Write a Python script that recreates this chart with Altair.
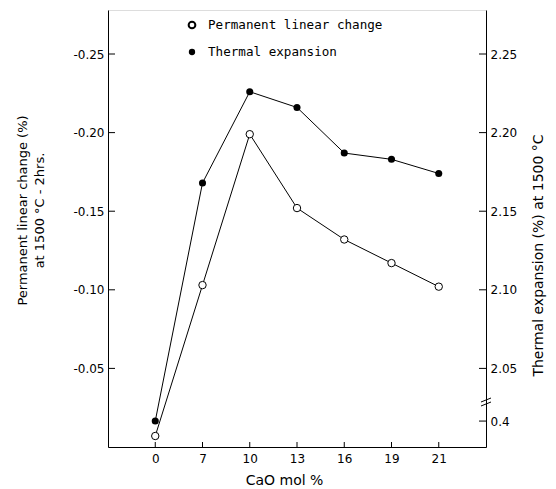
import altair as alt
import pandas as pd

# ---- data ----
cao = ["0", "7", "10", "13", "16", "19", "21"]
# permanent linear change, magnitude (axis is labelled with negative sign)
plc = [0.007, 0.103, 0.199, 0.152, 0.132, 0.117, 0.102]
# thermal expansion (%) at 1500 C ; first value lies below the axis break
te = [0.40, 2.168, 2.226, 2.216, 2.187, 2.183, 2.174]
left_ticks = [0.05, 0.10, 0.15, 0.20, 0.25]
right_ticks = [2.05, 2.10, 2.15, 2.20, 2.25]
legend_labels = ["Permanent linear change", "Thermal expansion"]

BREAK_POS = 2.0165  # position on the right scale where the broken-axis value 0.4 is drawn
W, H = 378, 437
LDOM = [0.0, 0.278]
RDOM = [2.0, 2.278]
FONT = "DejaVu Sans"
MONO = "DejaVu Sans Mono"

df = pd.DataFrame({"cao": cao, "plc": plc, "te": te})

xscale = alt.Scale(type="point", padding=1, domain=cao)
xaxis = alt.Axis(title="CaO mol %", labelAngle=0, ticks=False,
                 domain=True, domainColor="black", labelPadding=6,
                 labelFontSize=12, titleFontSize=14, titleFontWeight="normal",
                 titlePadding=9, titleX=176, titleAlign="center",
                 labelColor="black", titleColor="black",
                 grid=False, labelFont=FONT, titleFont=FONT)
xenc = alt.X("cao:O", scale=xscale, axis=xaxis)

lscale = alt.Scale(domain=LDOM, nice=False, zero=False)
rscale = alt.Scale(domain=RDOM, nice=False, zero=False)

base = alt.Chart(df)

# left series (open circles)
left_axis = alt.Axis(orient="left", values=left_ticks,
                     labelExpr="'-' + format(datum.value, '.2f')",
                     ticks=False, grid=False, domain=True, domainColor="black",
                     labelPadding=4, labelFontSize=12, labelColor="black",
                     title=["Permanent linear change (%)", "at 1500 \u00b0C - 2hrs."],
                     titleY=200, titleLineHeight=17,
                     titleFontSize=13, titleFontWeight="normal", titleColor="black",
                     titlePadding=26, labelFont=FONT, titleFont=FONT)

plc_line = base.mark_line(color="black", strokeWidth=1).encode(
    x=xenc, y=alt.Y("plc:Q", scale=lscale, axis=left_axis))
plc_pts = base.mark_point(shape="circle", filled=True, fill="white", stroke="black",
                          strokeWidth=1, size=55, opacity=1).encode(
    x=xenc, y=alt.Y("plc:Q", scale=lscale, axis=None))

# right series (filled circles)
right_axis = alt.Axis(orient="right", values=right_ticks + [BREAK_POS],
                      labelExpr="datum.value < 2.02 ? '0.4' : format(datum.value, '.2f')",
                      ticks=False, grid=False, domain=True, domainColor="black",
                      labelPadding=4, labelFontSize=12, labelColor="black",
                      title="Thermal expansion (%) at 1500 \u00b0C",
                      titleAngle=270, titleBaseline="middle", titleAlign="center",
                      titleX=52, titleY=245,
                      titleFontSize=14, titleFontWeight="normal", titleColor="black",
                      labelFont=FONT, titleFont=FONT)

te_base = base.transform_calculate(tepos=f"datum.te < 1 ? {BREAK_POS} : datum.te")
te_line = te_base.mark_line(color="black", strokeWidth=1).encode(
    x=xenc, y=alt.Y("tepos:Q", scale=rscale, axis=right_axis))
te_pts = te_base.mark_point(shape="circle", filled=True, color="black", size=50,
                            opacity=1).encode(
    x=xenc, y=alt.Y("tepos:Q", scale=rscale, axis=None))

# inward tick marks
lt = alt.Chart(pd.DataFrame({"v": left_ticks})).mark_rule(color="black").encode(
    x=alt.value(0), x2=alt.value(7),
    y=alt.Y("v:Q", scale=lscale, axis=None))
rt = alt.Chart(pd.DataFrame({"v": right_ticks + [BREAK_POS]})).mark_rule(color="black").encode(
    x=alt.value(W - 7), x2=alt.value(W),
    y=alt.Y("v:Q", scale=rscale, axis=None))
xt = alt.Chart(pd.DataFrame({"cao": cao})).mark_rule(color="black").encode(
    x=xenc, y=alt.value(H), y2=alt.value(H - 5))

# axis break marks on the right axis
brk1 = alt.Chart(pd.DataFrame({"a": [0]})).mark_rule(color="black").encode(
    x=alt.value(W - 5), x2=alt.value(W + 5), y=alt.value(392), y2=alt.value(388))
brk2 = alt.Chart(pd.DataFrame({"a": [0]})).mark_rule(color="black").encode(
    x=alt.value(W - 5), x2=alt.value(W + 5), y=alt.value(396), y2=alt.value(392))

# legend
LX, LY1, LY2 = 84, 15, 42
leg_df = pd.DataFrame({"label": legend_labels})
leg_open = alt.Chart(leg_df.iloc[[0]]).mark_point(shape="circle", filled=True, fill="white",
                                                stroke="black", size=45, opacity=1).encode(
    x=alt.value(LX), y=alt.value(LY1))
leg_fill = alt.Chart(leg_df.iloc[[1]]).mark_point(shape="circle", filled=True, color="black",
                                                size=40, opacity=1).encode(
    x=alt.value(LX), y=alt.value(LY2))
leg_t1 = alt.Chart(leg_df.iloc[[0]]).mark_text(align="left", baseline="middle",
                                              font=MONO, fontSize=12.6,
                                              color="black").encode(
    x=alt.value(LX + 16), y=alt.value(LY1), text="label:N")
leg_t2 = alt.Chart(leg_df.iloc[[1]]).mark_text(align="left", baseline="middle",
                                              font=MONO, fontSize=12.6,
                                              color="black").encode(
    x=alt.value(LX + 16), y=alt.value(LY2), text="label:N")

chart = alt.layer(
    plc_line, te_line, plc_pts, te_pts, lt, rt, xt, brk1, brk2,
    leg_open, leg_fill, leg_t1, leg_t2
).resolve_scale(y="independent").properties(
    width=W, height=H,
    padding={"left": 100, "top": 2, "right": 62, "bottom": 42},
    autosize=alt.AutoSizeParams(type="none"),
).configure_view(stroke=None).configure(background="white")

chart.save("out.html", embed_options={"renderer": "svg", "actions": False})
